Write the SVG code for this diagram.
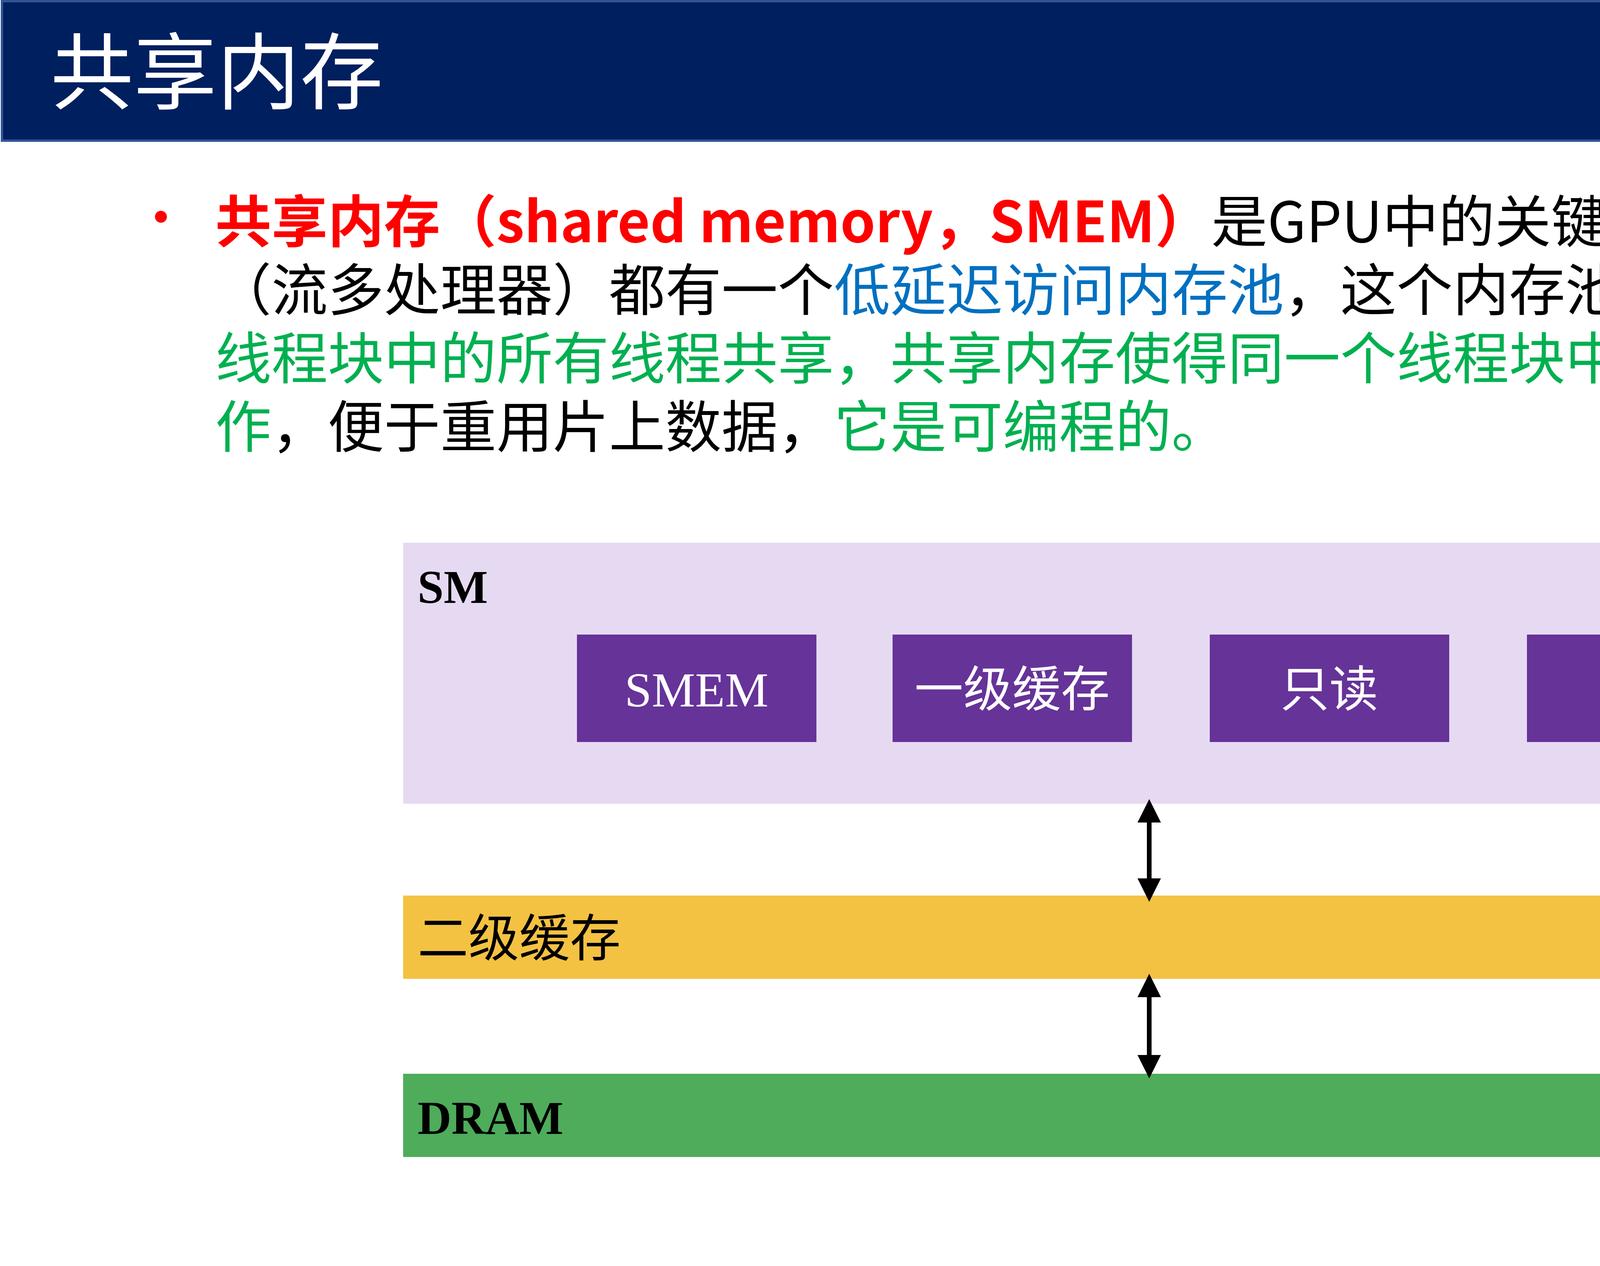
<svg xmlns="http://www.w3.org/2000/svg" width="5760" height="3240" viewBox="0 0 5760 3240">
<style>
.cn{font-family:"Noto Sans CJK SC","Noto Sans",sans-serif}
.body{font-size:144px}
.box{fill:#663399}
.bt{fill:#fff;font-size:125px;text-anchor:middle}
.lab{font-family:"Liberation Serif","Noto Sans CJK SC",serif;font-weight:bold;font-size:120px}
</style>
<defs>
<marker id="ah" viewBox="0 0 10 10" refX="5" refY="5" markerWidth="5" markerHeight="5" orient="auto-start-reverse"><path d="M0,0L10,5L0,10z" fill="#000"/></marker>
</defs>
<rect width="5760" height="3240" fill="#fff"/>
<g id="title">
<rect x="5" y="3" width="5750" height="357" fill="#001F5F" stroke="#2F5597" stroke-width="6"/>
<text x="129" y="262" class="cn" font-size="213" fill="#fff">共享内存</text>
</g>
<g id="bullet" class="cn body">
<text x="340" y="610" fill="#FF0000">•</text>
<text x="551" y="620"><tspan fill="#FF0000" font-weight="bold">共享内存（shared memory，SMEM）</tspan><tspan fill="#000">是GPU中的关键部件。每个SM</tspan></text>
<text x="551" y="795"><tspan fill="#000">（流多处理器）都有一个</tspan><tspan fill="#0070C0">低延迟访问内存池</tspan><tspan fill="#000">，这个内存池被当前SM上执行的</tspan></text>
<text x="551" y="970" fill="#00B050">线程块中的所有线程共享，共享内存使得同一个线程块中的线程可以互相协</text>
<text x="551" y="1145"><tspan fill="#00B050">作</tspan><tspan fill="#000">，便于重用片上数据，</tspan><tspan fill="#00B050">它是可编程的。</tspan></text>
</g>
<g id="sm">
<rect x="1032" y="1389" width="3821" height="668" fill="#E6DAF2"/>
<text x="1069" y="1543" class="lab">SM</text>
</g>
<g id="smem"><rect class="box" x="1477" y="1624" width="613" height="275"/><text class="bt" x="1783" y="1808" font-family="Liberation Serif,serif">SMEM</text></g>
<g id="l1"><rect class="box" x="2285" y="1624" width="613" height="275"/><text class="bt cn" x="2591" y="1808">一级缓存</text></g>
<g id="ro"><rect class="box" x="3097" y="1624" width="613" height="275"/><text class="bt cn" x="3403" y="1808">只读</text></g>
<g id="const"><rect class="box" x="3909" y="1624" width="613" height="275"/><text class="bt cn" x="4215" y="1808">常量</text></g>
<g id="l2">
<rect x="1032" y="2292" width="3821" height="213" fill="#F4C242"/>
<text x="1069" y="2447" class="cn" font-size="130">二级缓存</text>
</g>
<g id="dram">
<rect x="1032" y="2748" width="3821" height="213" fill="#4EAC5B"/>
<text x="1069" y="2902" class="lab">DRAM</text>
</g>
<g id="connectors" stroke="#000" stroke-width="12">
<line x1="2942" y1="2075" x2="2942" y2="2278" marker-start="url(#ah)" marker-end="url(#ah)"/>
<line x1="2942" y1="2522" x2="2942" y2="2730" marker-start="url(#ah)" marker-end="url(#ah)"/>
</g>
<text x="5282" y="3115" font-family="Liberation Sans,sans-serif" font-size="70" fill="#8C8C8C" text-anchor="middle">19</text>
</svg>
